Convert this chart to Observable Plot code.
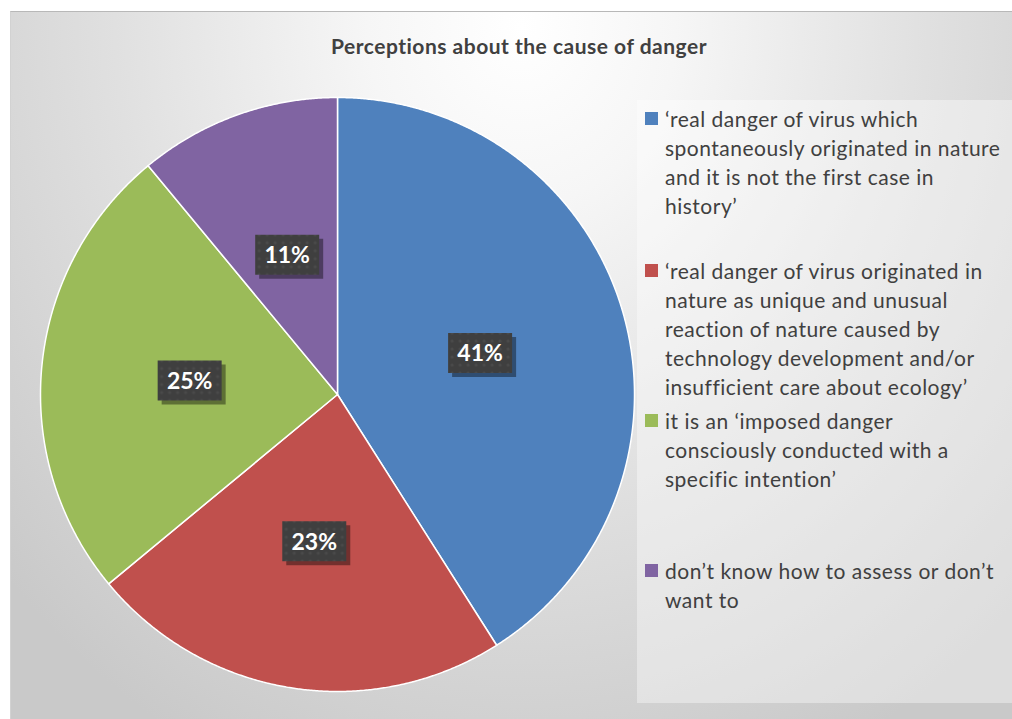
<!DOCTYPE html>
<html><head><meta charset="utf-8">
<script src="https://cdn.jsdelivr.net/npm/d3@7"></script>
<script src="https://cdn.jsdelivr.net/npm/@observablehq/plot@0.6"></script>
<style>
body{margin:0;background:#fff;}
#wrap{position:relative;width:1012px;height:719px;overflow:hidden;font-family:Lato,"Open Sans",sans-serif;}
#bg{position:absolute;left:10px;top:11px;right:0;bottom:0;
  background:radial-gradient(ellipse 70% 115% at 51% 2%, #ffffff 0%, #f6f6f6 22%, #e0e0e0 58%, #c9c9c9 100%);
  border-top:1px solid #b8b8b8;border-left:1px solid #d2d2d2;}
#title{position:absolute;top:33px;left:519px;transform:translateX(-50%);font-weight:700;font-size:21px;letter-spacing:0.5px;color:#404040;white-space:nowrap;}
#legendbox{position:absolute;left:637px;top:100px;width:375px;height:603px;background:rgba(255,255,255,0.38);}
.sw{position:absolute;left:8px;width:13px;height:13px;}
.lt{position:absolute;left:28px;font-size:21px;letter-spacing:0.5px;line-height:29px;color:#404040;white-space:pre;}
#chart svg{position:absolute;left:0;top:0;}
</style></head>
<body>
<div id="wrap">
  <div id="bg"></div>
  <div id="title"></div>
  <div id="legendbox"></div>
  <div id="chart"></div>
</div>
<script>
const title = "Perceptions about the cause of danger";
const keys = ["natural", "unique", "imposed", "dontknow"];
const legendLabels = [
  "\u2018real danger of virus which\nspontaneously originated in nature\nand it is not the first case in\nhistory\u2019",
  "\u2018real danger of virus originated in\nnature as unique and unusual\nreaction of nature caused by\ntechnology development and/or\ninsufficient care about ecology\u2019",
  "it is an \u2018imposed danger\nconsciously conducted with a\nspecific intention\u2019",
  "don\u2019t know how to assess or don\u2019t\nwant to"
];
const values = [41, 23, 25, 11];
const colors = ["#4F81BD", "#C0504D", "#9BBB59", "#8064A2"];
const legendTops = [118, 270, 420, 570]; // first-line centers

document.getElementById("title").textContent = title;

// legend
const lb = document.getElementById("legendbox");
keys.forEach((k, i) => {
  const top = legendTops[i] - 100;
  const sw = document.createElement("div");
  sw.className = "sw"; sw.style.top = (top - 6) + "px"; sw.style.background = colors[i];
  lb.appendChild(sw);
  const t = document.createElement("div");
  t.className = "lt"; t.style.top = (top - 14.5) + "px"; t.textContent = legendLabels[i];
  lb.appendChild(t);
});

// pie geometry from the values
const arcs = d3.pie().sort(null).startAngle(0).endAngle(2 * Math.PI)(values);
const pts = [];
arcs.forEach((a, i) => {
  pts.push({k: keys[i], x: 0, y: 0});
  const n = Math.max(2, Math.ceil((a.endAngle - a.startAngle) / 0.005));
  for (let j = 0; j <= n; j++) {
    const t = a.startAngle + (a.endAngle - a.startAngle) * j / n;
    pts.push({k: keys[i], x: Math.sin(t), y: Math.cos(t)});
  }
});
const lab = arcs.map((a, i) => {
  const m = (a.startAngle + a.endAngle) / 2;
  return {k: keys[i], x: 0.5 * Math.sin(m), y: 0.5 * Math.cos(m), t: values[i] + "%"};
});

const boxSymbol = {draw(ctx) { ctx.rect(-32, -20, 64, 40); }};

const svg = Plot.plot({
  width: 1012, height: 719,
  x: {domain: [-1, 1], range: [40, 634], axis: null},
  y: {domain: [-1, 1], range: [691, 97], axis: null},
  color: {domain: keys, range: colors},
  style: {background: "transparent", overflow: "visible"},
  marks: [
    Plot.line(pts, {x: "x", y: "y", z: "k", fill: "k", stroke: "white", strokeWidth: 1.5, curve: "linear-closed"}),
    Plot.dot(lab, {x: "x", y: "y", symbol: boxSymbol, r: 10, fill: "black", fillOpacity: 0.4, dx: 4, dy: 4, ariaLabel: "shadow"}),
    Plot.dot(lab, {x: "x", y: "y", symbol: boxSymbol, r: 10, fill: "url(#dots)", ariaLabel: "labelbox"}),
    Plot.text(lab, {x: "x", y: "y", dy: 1, text: "t", fill: "white", fontSize: 23, fontWeight: "bold", fontFamily: "Lato, 'Open Sans', sans-serif", ariaLabel: "labeltext"})
  ]
});

const defs = d3.select(svg).insert("defs", ":first-child");
const pat = defs.append("pattern").attr("id", "dots").attr("width", 8).attr("height", 8).attr("patternUnits", "userSpaceOnUse");
pat.append("rect").attr("width", 8).attr("height", 8).attr("fill", "#3f3f3f");
pat.append("circle").attr("cx", 4).attr("cy", 4).attr("r", 1.6).attr("fill", "#4a4a4a");
defs.append("filter").attr("id", "blur").attr("x", "-50%").attr("y", "-50%").attr("width", "200%").attr("height", "200%")
  .append("feGaussianBlur").attr("stdDeviation", 3);
const sh = svg.querySelector('g[aria-label="shadow"]');
if (sh) sh.setAttribute("filter", "url(#blur)");

document.getElementById("chart").appendChild(svg);
</script>
</body></html>
